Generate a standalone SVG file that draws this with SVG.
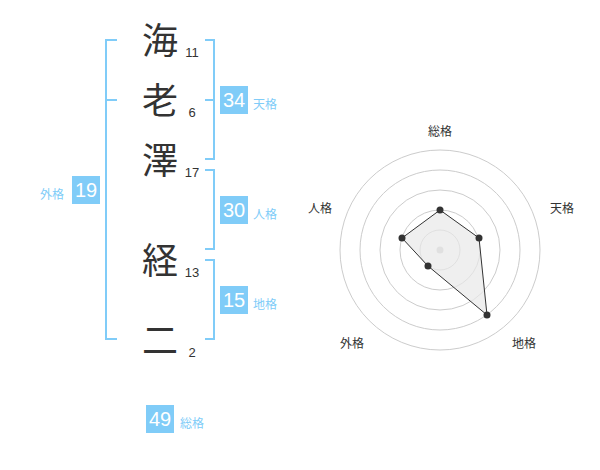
<svg xmlns="http://www.w3.org/2000/svg" width="600" height="470" viewBox="0 0 600 470">
<style>
.k{font-family:"Noto Sans CJK JP","Noto Sans CJK SC",sans-serif;font-size:36px;fill:#333;text-anchor:middle}
.n{font-family:"Liberation Sans",Arial,sans-serif;font-size:13px;fill:#333;text-anchor:middle}
.br{fill:none;stroke:#80ccf8;stroke-width:2}
.box{fill:#80ccf8}
.bt{font-family:"Liberation Sans",Arial,sans-serif;font-size:20px;fill:#fff;text-anchor:middle}
.bl{font-family:"Noto Sans CJK JP",sans-serif;font-size:12px;fill:#80ccf8}
.ring{fill:none;stroke:#ccc;stroke-width:1}
.rl{font-family:"Noto Sans CJK JP",sans-serif;font-size:12px;fill:#333;text-anchor:middle}
.dot{fill:#333}
</style>
<rect width="600" height="470" fill="#fff"/>
<g id="connectors">
<path class="br" d="M117,40 H106 V339 H117 M106,100 H117"/>
<path class="br" d="M205,40 H214 V159 H205 M205,100 H214"/>
<path class="br" d="M205,170 H214 V249 H205"/>
<path class="br" d="M205,260 H214 V339 H205"/>
</g>
<g id="char1"><text class="k" x="160" y="54">海</text><text class="n" x="192" y="57">11</text></g>
<g id="char2"><text class="k" x="160" y="114">老</text><text class="n" x="192" y="117">6</text></g>
<g id="char3"><text class="k" x="160" y="174">澤</text><text class="n" x="192" y="177">17</text></g>
<g id="char4"><text class="k" x="160" y="274">経</text><text class="n" x="192" y="277">13</text></g>
<g id="char5"><text class="k" x="160" y="354">二</text><text class="n" x="192" y="357">2</text></g>
<g id="tenkaku"><rect class="box" x="220" y="86" width="28" height="28"/><text class="bt" x="234" y="107">34</text><text class="bl" x="253" y="109">天格</text></g>
<g id="jinkaku"><rect class="box" x="220" y="196" width="28" height="28"/><text class="bt" x="234" y="217">30</text><text class="bl" x="253" y="219">人格</text></g>
<g id="chikaku"><rect class="box" x="220" y="286" width="28" height="28"/><text class="bt" x="234" y="307">15</text><text class="bl" x="253" y="309">地格</text></g>
<g id="gaikaku"><rect class="box" x="72" y="176" width="28" height="28"/><text class="bt" x="86" y="197">19</text><text class="bl" x="40" y="199">外格</text></g>
<g id="soukaku"><rect class="box" x="146" y="405" width="28" height="28"/><text class="bt" x="160" y="426">49</text><text class="bl" x="180" y="428">総格</text></g>
<g id="radar">
<circle class="ring" cx="440" cy="250" r="100"/>
<circle class="ring" cx="440" cy="250" r="80"/>
<circle class="ring" cx="440" cy="250" r="60"/>
<circle class="ring" cx="440" cy="250" r="40"/>
<circle class="ring" cx="440" cy="250" r="20"/>
<circle cx="440" cy="250" r="3.5" fill="#ccc"/>
<polygon points="440,210 479,238 487,315 428,266 402,238" fill="#e8e8e8" fill-opacity="0.7" stroke="#333" stroke-width="1"/>
<circle class="dot" cx="440" cy="210" r="3.5"/>
<circle class="dot" cx="479" cy="238" r="3.5"/>
<circle class="dot" cx="487" cy="315" r="3.5"/>
<circle class="dot" cx="428" cy="266" r="3.5"/>
<circle class="dot" cx="402" cy="238" r="3.5"/>
<text class="rl" x="440" y="136">総格</text>
<text class="rl" x="562" y="213">天格</text>
<text class="rl" x="320" y="213">人格</text>
<text class="rl" x="352" y="348">外格</text>
<text class="rl" x="524" y="348">地格</text>
</g>
</svg>
